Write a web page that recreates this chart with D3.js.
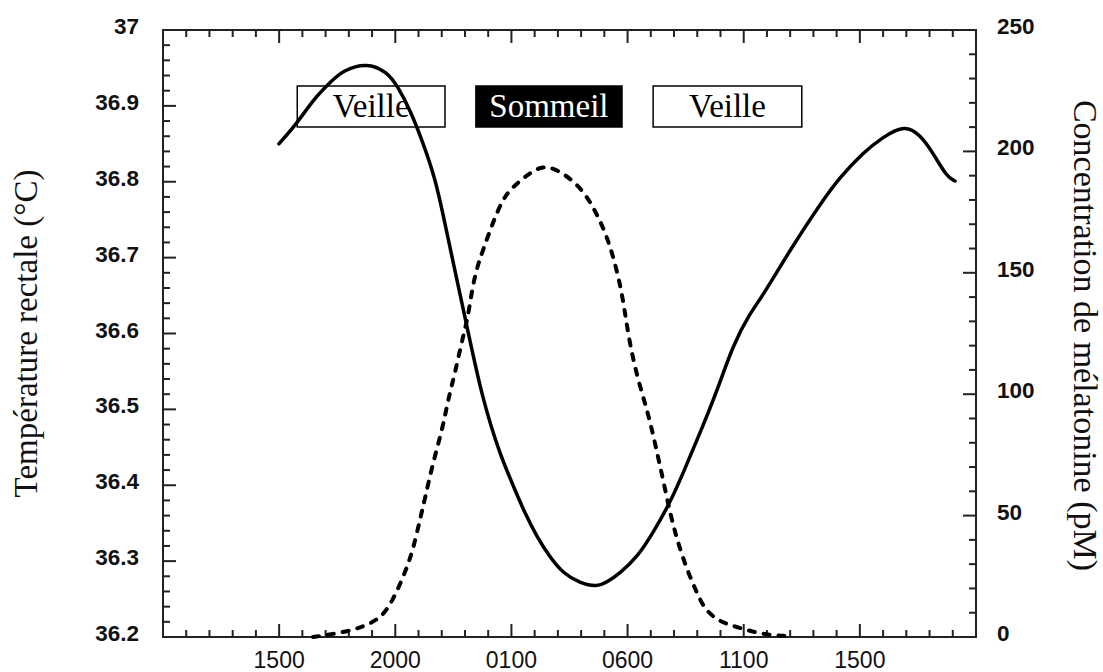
<!DOCTYPE html>
<html>
<head>
<meta charset="utf-8">
<script src="https://cdn.jsdelivr.net/npm/d3@7"></script>
<style>
  html, body { margin: 0; padding: 0; background: #fff; }
  svg { display: block; }
</style>
</head>
<body>
<svg id="chart" width="1103" height="672"></svg>
<script>
// ---------- DATA ----------
// x = hours from the left edge of the time axis (major tick every 5 h)
const xTickValues = [5, 10, 15, 20, 25, 30];
const xTickLabels = ["1500", "2000", "0100", "0600", "1100", "1500"];

const tempTicks = [36.2, 36.3, 36.4, 36.5, 36.6, 36.7, 36.8, 36.9, 37];
const tempTickLabels = ["36.2", "36.3", "36.4", "36.5", "36.6", "36.7", "36.8", "36.9", "37"];
const melTicks = [0, 50, 100, 150, 200, 250];

// Rectal temperature (°C), solid line
const tempHours = [4.99, 5.77, 6.46, 7.19, 7.75, 8.78, 9.64, 10.12, 10.63, 11.19, 11.71, 12.05, 12.44,
  13.09, 13.73, 14.51, 15.07, 15.58, 16.10, 16.66, 17.22, 17.95, 18.68, 19.11, 19.67, 20.41, 21.09,
  21.83, 22.39, 23.12, 23.85, 24.54, 25.27, 25.83, 26.99, 28.41, 29.15, 30.13, 30.99, 31.94, 32.59,
  33.15, 33.75, 34.10];
const tempValues = [36.850, 36.877, 36.908, 36.931, 36.947, 36.957, 36.945, 36.925, 36.895, 36.852,
  36.805, 36.758, 36.701, 36.609, 36.516, 36.440, 36.400, 36.363, 36.332, 36.305, 36.284, 36.271,
  36.266, 36.272, 36.284, 36.305, 36.337, 36.377, 36.416, 36.469, 36.524, 36.585, 36.627, 36.650,
  36.710, 36.776, 36.806, 36.838, 36.859, 36.875, 36.862, 36.838, 36.806, 36.801];

// Melatonin concentration (pM), dashed line
const melHours = [6.46, 7.32, 8.18, 8.78, 9.43, 9.90, 10.42, 10.76, 11.06, 11.28, 11.62, 12.05, 12.27,
  12.57, 12.91, 13.13, 13.30, 13.52, 13.78, 14.21, 14.64, 15.02, 15.67, 16.36, 17.00, 17.74, 18.30,
  18.68, 19.03, 19.33, 19.67, 19.89, 20.10, 20.45, 20.88, 21.18, 21.53, 21.83, 22.13, 22.56, 22.99,
  23.33, 23.98, 24.71, 25.40, 26.13, 26.86];
const melValues = [0, 1.2, 2.9, 4.9, 8.2, 15.2, 26.4, 35.8, 48.2, 57.2, 71.7, 86.5, 97.6, 108.7, 123.6,
  131.8, 142.9, 152.4, 159.4, 171.0, 180.5, 185.0, 190.3, 194.4, 192.3, 187.4, 180.8, 174.0, 166.8,
  158.4, 146.0, 133.6, 120.4, 105.8, 92.3, 79.9, 64.7, 51.1, 40.0, 27.6, 18.1, 11.1, 6.2, 4.1, 2.1,
  0.8, 0.4];

// Phase boxes
const phaseLabels = ["Veille", "Sommeil", "Veille"];
const phaseStart = [5.78, 13.47, 21.1];
const phaseEnd = [12.14, 19.76, 27.5];
const phaseDark = [false, true, false];

const leftTitle = "Température rectale (°C)";
const rightTitle = "Concentration de mélatonine (pM)";

// ---------- LAYOUT ----------
const svg = d3.select("#chart");
const L = 163, R = 976, T = 30, B = 637;

const x = d3.scaleLinear().domain([0, 35]).range([L, R]);
const yT = d3.scaleLinear().domain([36.2, 37]).range([B, T]);
const yM = d3.scaleLinear().domain([0, 250]).range([B, T]);

const axisColor = "#222";

// frame
svg.append("rect").attr("x", L).attr("y", T).attr("width", R - L).attr("height", B - T)
  .attr("fill", "none").attr("stroke", axisColor).attr("stroke-width", 2);

const minorX = d3.range(1, 35).filter(v => v % 5 !== 0);
const g = svg.append("g").attr("stroke", axisColor).attr("stroke-width", 2);

// bottom & top x ticks (inward)
[[B, -1], [T, 1]].forEach(([yy, dir]) => {
  xTickValues.forEach(v => g.append("line").attr("x1", x(v)).attr("x2", x(v))
    .attr("y1", yy).attr("y2", yy + dir * 13));
  minorX.forEach(v => g.append("line").attr("x1", x(v)).attr("x2", x(v))
    .attr("y1", yy).attr("y2", yy + dir * 7));
});

// left temperature ticks
const tempMinor = d3.range(1, 40).map(i => 36.2 + i * 0.02).filter((v, i) => (i + 1) % 5 !== 0);
tempTicks.slice(1, -1).forEach(v => g.append("line").attr("x1", L).attr("x2", L + 13)
  .attr("y1", yT(v)).attr("y2", yT(v)));
tempMinor.forEach(v => g.append("line").attr("x1", L).attr("x2", L + 7)
  .attr("y1", yT(v)).attr("y2", yT(v)));

// right melatonin ticks
const melMinor = d3.range(10, 250, 10).filter(v => v % 50 !== 0);
melTicks.slice(1, -1).forEach(v => g.append("line").attr("x1", R).attr("x2", R - 13)
  .attr("y1", yM(v)).attr("y2", yM(v)));
melMinor.forEach(v => g.append("line").attr("x1", R).attr("x2", R - 7)
  .attr("y1", yM(v)).attr("y2", yM(v)));

// tick labels
const sans = "'Liberation Sans', Arial, Helvetica, sans-serif";
tempTicks.forEach((v, i) => svg.append("text").attr("x", 139).attr("y", yT(v) + 4)
  .attr("text-anchor", "end").attr("font-family", sans).attr("font-weight", "bold")
  .attr("font-size", 22.5).attr("fill", "#111").text(tempTickLabels[i]));
melTicks.forEach(v => svg.append("text").attr("x", 997).attr("y", yM(v) + 4)
  .attr("text-anchor", "start").attr("font-family", sans).attr("font-weight", "bold")
  .attr("font-size", 22.5).attr("fill", "#111").text(String(v)));
xTickValues.forEach((v, i) => svg.append("text").attr("x", x(v)).attr("y", B + 31)
  .attr("text-anchor", "middle").attr("font-family", sans)
  .attr("font-size", 23).attr("fill", "#111").text(xTickLabels[i]));

// axis titles
const serif = "'Liberation Serif', 'Times New Roman', serif";
svg.append("text").attr("transform", `translate(37,${(T + B) / 2}) rotate(-90)`)
  .attr("text-anchor", "middle").attr("font-family", serif).attr("font-size", 33)
  .attr("fill", "#111").text(leftTitle);
svg.append("text").attr("transform", `translate(1074,${(T + B) / 2 + 2}) rotate(90)`)
  .attr("text-anchor", "middle").attr("font-family", serif).attr("font-size", 34)
  .attr("fill", "#111").text(rightTitle);

// phase boxes
phaseLabels.forEach((lab, i) => {
  const x0 = x(phaseStart[i]), x1 = x(phaseEnd[i]);
  svg.append("rect").attr("x", x0).attr("y", 86).attr("width", x1 - x0).attr("height", 41)
    .attr("fill", phaseDark[i] ? "#000" : "#fff").attr("stroke", "#000").attr("stroke-width", 1.5);
  svg.append("text").attr("x", (x0 + x1) / 2).attr("y", 117)
    .attr("text-anchor", "middle").attr("font-family", serif).attr("font-size", 33)
    .attr("fill", phaseDark[i] ? "#fff" : "#000").text(lab);
});

// curves
const tempData = tempHours.map((h, i) => [h, tempValues[i]]);
const melData = melHours.map((h, i) => [h, melValues[i]]);

svg.append("path").datum(melData)
  .attr("d", d3.line().x(d => x(d[0])).y(d => yM(d[1])).curve(d3.curveBasis))
  .attr("fill", "none").attr("stroke", "#000").attr("stroke-width", 4)
  .attr("stroke-dasharray", "6,9").attr("stroke-linecap", "round");

svg.append("path").datum(tempData)
  .attr("d", d3.line().x(d => x(d[0])).y(d => yT(d[1])).curve(d3.curveBasis))
  .attr("fill", "none").attr("stroke", "#000").attr("stroke-width", 3.5)
  .attr("stroke-linejoin", "round").attr("stroke-linecap", "round");
</script>
</body>
</html>
